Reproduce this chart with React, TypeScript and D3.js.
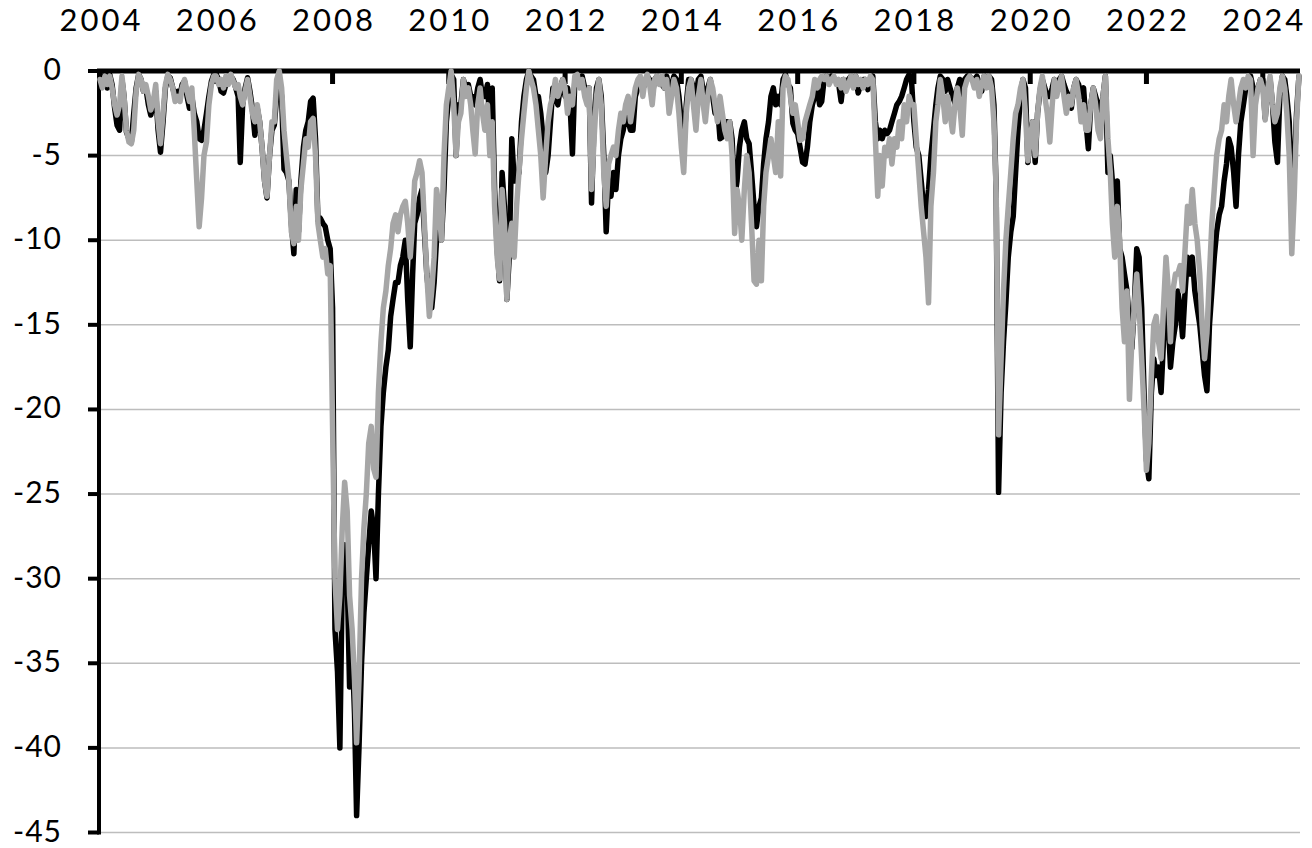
import React from "react";
import * as d3 from "d3";

// Series start: first observation (semi-monthly: 1st and 16th of each month)
const START_YEAR = 2004;
const START_MONTH = 9; // October (0-based)

// Drawdown (%) of the grey series, semi-monthly, one row per year of data
const greySeries: number[] = [
  -0.5,-1.0,-0.3,-0.8,-0.3,-1.0,-2.0,-2.6,-2.0,-0.3,-1.5,-3.5,-4.2,-4.3,-3.5,-1.2,-0.2,-0.5,-1.2,-0.8,-1.5,-2.3,-1.8,-0.8,
  -3.0,-4.3,-2.5,-0.8,-0.2,-0.5,-1.0,-1.8,-1.5,-1.8,-1.0,-0.5,-1.2,-1.8,-1.0,-3.5,-6.5,-9.2,-7.5,-5.0,-4.2,-2.0,-0.8,-0.3,
  -0.3,-0.8,-0.5,-1.0,-0.3,-0.8,-0.2,-0.6,-1.0,-0.8,-1.5,-2.0,-1.2,-0.5,-1.5,-2.5,-3.0,-2.0,-3.0,-4.5,-6.5,-7.4,-5.0,-3.0,
  -3.0,-0.5,0,-1.0,-3.5,-5.0,-6.5,-9.5,-10.2,-8.0,-10.0,-7.0,-5.5,-4.0,-4.5,-3.0,-2.8,-5.0,-9.0,-10.0,-11.0,-10.5,-12.0,-11.5,
  -21,-30,-33,-31,-27,-24.3,-26,-31,-33,-36,-39.7,-36,-30,-27,-25,-22,-21,-23.5,-24,-19,-16,-14,-13,-11.5,
  -10.5,-9,-8.5,-9.5,-8.5,-8,-7.7,-9,-11,-9,-6.5,-6,-5.3,-6,-9,-12,-14.5,-13,-11,-7,-8,-10,-5,-2,
  -1,0,-2,-5,-3,-2.5,-0.5,-1.5,-1,-2,-3.5,-4.9,-2,-1,-2.5,-3.5,-2,-5,-3,-8,-11,-12.3,-7,-9,
  -13.5,-10,-9,-11,-8,-6,-4,-2.5,-1,0,-0.5,-1,-2,-3.5,-5,-7.5,-5,-3,-2,-1.5,-0.5,-1.5,-1,-0.5,
  -1,-2.5,-1.5,-2,-0.3,-0.2,-1,-0.5,-1.5,-2,-1,-7,-4,-1.5,-0.5,-2,-6,-8,-5.5,-5,-4.5,-5,-3.5,-2.5,
  -3,-2,-1.5,-3,-2,-1,-0.5,-0.3,-1.5,-0.5,-0.2,-0.8,-2,-0.5,-0.3,-0.8,-0.3,-1,-0.5,-2.5,-1.5,-0.5,-1,-2.5,
  -4.5,-6,-2.5,-1,-0.5,-2,-3.5,-1.5,-0.5,-2,-3,-1.5,-0.5,-1,-2,-3,-1.5,-2.5,-3.5,-4,-3,-5,-9.6,-7,
  -8,-10,-7,-5,-6,-9,-12.4,-12.6,-10,-12.4,-8,-6,-5,-4,-5,-6,-3,-6.2,-1,-0.3,-0.5,-1.5,-2.5,-2,
  -3,-4.1,-4,-3,-2.5,-2,-1.5,-0.5,-1,-0.5,-0.3,-0.5,-0.3,-0.8,-0.5,-0.3,-0.8,-0.5,-1,-0.5,-1.2,-0.8,-0.3,-1,
  -0.3,-0.8,-0.5,-1,-0.5,-0.8,-0.3,-0.5,-4,-7.4,-5,-6.8,-4.5,-5,-4,-5.5,-4,-4.5,-3,-4,-2,-3,-1.5,-2,
  -2,-4,-6,-8,-9.5,-11,-13.7,-8,-6,-3,-2,-0.5,-1.5,-3,-1.5,-2.5,-3.6,-2,-1,-2,-3.8,-1,-0.5,-0.3,
  -0.5,-1,-0.5,-1.5,-0.8,-0.3,-1,-0.3,-1,-3,-7.2,-21.5,-17,-13,-10,-8,-6,-4,-2.5,-2,-1,-0.5,-2.5,-5.3,
  -4,-3,-5,-2.5,-1,-0.3,-1.5,-2.5,-4.2,-2,-0.5,-1.5,-0.8,-0.3,-1.5,-2.5,-1.5,-2,-1,-0.5,-1.5,-3,-2,-3.5,
  -3.5,-2,-1,-2,-3.5,-4,-1.5,-0.3,-4,-6,-9,-11,-8,-10,-14,-16,-13,-19.4,-16,-14,-12,-14,-17,-20,
  -23.6,-22,-18,-15,-14.5,-16,-17,-14,-11,-13,-16,-13,-12,-12,-11.5,-13,-10.5,-8,-9,-7,-9,-10,-12,-15,
  -17,-15.5,-12,-9,-7,-5,-4,-3.5,-2,-3,-1.5,-0.5,-2,-3,-2,-1,-0.5,-1,-0.3,-0.5,-5,-2,-1,-0.5,
  -1,-2.9,-1,-0.3,-2,-3,-2.5,-1,-0.3,-1,-2.5,-5,-10.8,-7.5,-3,-0.3,
];

// Drawdown (%) of the black series, same dates
const blackSeries: number[] = [
  -0.3,-0.5,-0.2,-1.0,-0.2,-0.8,-2.2,-3.2,-3.5,-0.5,-1.5,-3.6,-4.0,-4.2,-2.5,-1.0,-0.2,-0.5,-1.2,-1.0,-2.0,-2.6,-2.0,-1.2,
  -3.5,-4.8,-3.0,-1.0,-0.3,-0.4,-1.0,-1.5,-1.2,-1.4,-0.8,-0.6,-1.5,-2.2,-1.5,-2.5,-3.0,-4.0,-4.1,-3.5,-2.5,-1.5,-0.6,-0.2,
  -0.2,-0.5,-1.2,-1.3,-0.8,-0.6,-0.3,-0.5,-1.0,-1.5,-5.4,-2.0,-1.0,-0.4,-1.2,-2.2,-3.8,-2.2,-3.0,-4.5,-6.5,-7.5,-5.0,-3.5,
  -3.2,-1.5,-0.5,-1.5,-5.8,-6.0,-6.5,-9.0,-10.8,-7.0,-9.5,-6.5,-4.5,-3.5,-3.0,-1.8,-1.6,-4.0,-8.8,-8.7,-9.0,-9.2,-10.0,-10.5,
  -14,-33,-35.5,-40,-30,-28,-30,-36.4,-34,-38,-44,-40,-35,-32,-30,-28,-26,-27,-30,-25,-21,-19,-17.5,-16.5,
  -14.5,-13.5,-12.5,-12.5,-11.5,-11,-10,-13.5,-16.3,-12,-9,-8.5,-7.5,-7,-9.5,-12,-13.5,-14,-12.5,-10,-9.5,-10,-7,-3,
  -1.5,-0.2,-0.5,-5,-2,-2,-0.5,-1,-0.8,-1.5,-1.5,-2,-1,-0.5,-1.5,-1.5,-0.8,-3,-1,-7,-10.5,-12.4,-6,-8,
  -13.5,-11,-4,-6.5,-6.5,-6,-3,-1.5,-0.5,0,-0.3,-0.5,-1.5,-1.5,-2.5,-4,-6,-5,-3,-1,-1.5,-2,-1,-0.5,
  -1.5,-1,-2,-4.9,-0.5,-0.3,-0.5,-0.3,-1,-1.5,-1,-7.8,-3,-1,-0.5,-1.5,-5,-9.5,-6.5,-7.4,-6,-7,-5,-4,
  -3.5,-2.5,-3,-3.5,-3.5,-1.5,-1,-0.5,-1,-0.8,-0.3,-0.5,-1.5,-0.5,-0.3,-0.5,-0.8,-1,-0.3,-1,-0.8,-0.3,-0.5,-1.5,
  -3,-4.7,-2,-0.5,-0.5,-1,-1.5,-0.5,-0.3,-1.2,-2,-1,-0.5,-1.5,-2.5,-2,-4,-3.9,-3,-3,-3,-4,-7.5,-6.5,
  -4.5,-3.5,-3,-4,-4.3,-6,-8,-9.2,-8,-7.5,-5.5,-4,-3,-1.5,-1,-2,-1.5,-2,-0.5,-0.2,-0.8,-1,-3.1,-3.5,
  -3.7,-4.5,-5.4,-5.5,-4.5,-3,-2,-1.5,-1,-2,-1.8,-0.5,-0.3,-0.5,-0.3,-0.5,-0.5,-0.8,-1.8,-0.5,-0.8,-0.5,-0.3,-0.8,
  -0.3,-1.3,-0.8,-0.5,-0.5,-1.1,-0.5,-0.3,-3,-4,-3.5,-4,-3.5,-3.7,-3.5,-3,-2.5,-2,-1.8,-1.5,-1,-0.5,-0.2,-0.5,
  -3,-4.5,-5,-6.5,-8,-8.6,-7,-5,-3.5,-2,-1,-0.3,-0.5,-1.2,-0.5,-1,-1.5,-1.9,-1,-0.5,-1.5,-0.5,-0.3,-0.3,
  -0.5,-0.5,-0.3,-0.8,-1.2,-0.3,-0.5,-0.3,-0.5,-2,-7.2,-24.9,-19,-16,-13.7,-11,-9.5,-8.6,-6,-3.5,-1.5,-0.5,-1,-5.4,
  -4,-3,-5.4,-2.5,-1.2,-0.5,-1,-1.5,-1.5,-1,-0.5,-1,-0.5,-0.3,-0.8,-1.2,-1.5,-2.2,-1,-0.5,-0.8,-1.5,-1,-3,
  -4.6,-2,-1,-1.5,-2,-2.5,-1.5,-0.3,-6,-5,-6.5,-8,-6.5,-10.5,-11,-12,-13,-15,-16.4,-14,-10.5,-11,-14,-19,
  -23,-24.1,-19,-17,-18,-17.5,-19,-16,-13.5,-15,-17.5,-16,-15,-13,-14,-15.7,-13,-11,-12,-11,-13,-14,-15,-16.5,
  -18,-18.9,-15,-13,-11,-9.5,-8.5,-8,-6.5,-5.5,-4,-4.5,-6,-8,-5,-3,-2,-1,-0.5,-0.3,-1,-1.5,-1,-0.5,
  -0.5,-2.8,-1,-0.5,-2,-4.2,-5.4,-1.5,-0.3,-0.5,-1.5,-3,-7.5,-6,-2.5,-0.3,
];

// Axis ticks
const xTickYears: number[] = [2004, 2006, 2008, 2010, 2012, 2014, 2016, 2018, 2020, 2022, 2024];
const yTicks: number[] = [0, -5, -10, -15, -20, -25, -30, -35, -40, -45];

const W = 1312;
const H = 848;
const FONT = "Lato, 'DejaVu Sans', sans-serif";

const dateOf = (i: number) =>
  new Date(START_YEAR, START_MONTH + Math.floor(i / 2), i % 2 === 0 ? 1 : 16);

export default function App() {
  const x = d3
    .scaleTime()
    .domain([new Date(START_YEAR, START_MONTH, 1), new Date(START_YEAR + 20, START_MONTH, 1)])
    .range([100, 1262.8]);
  const y = d3.scaleLinear().domain([0, -45]).range([71, 832.5]);

  const plotLeft = 99;
  const plotRight = 1300;

  const line = d3
    .line<number>()
    .x((_, i) => x(dateOf(i)))
    .y((d) => y(d))
    .curve(d3.curveLinear);

  return (
    <svg
      width={W}
      height={H}
      style={{ position: "absolute", left: 0, top: 0, background: "#fff" }}
      fontFamily={FONT}
    >
      <rect x={0} y={0} width={W} height={H} fill="#fff" />
      {/* gridlines */}
      {yTicks
        .filter((t) => t !== 0)
        .map((t) => (
          <line
            key={"g" + t}
            x1={plotLeft}
            x2={plotRight}
            y1={y(t)}
            y2={y(t)}
            stroke="#bdbdbd"
            strokeWidth={1.5}
          />
        ))}
      {/* x axis (at zero) with ticks */}
      <line x1={97} x2={plotRight} y1={y(0)} y2={y(0)} stroke="#000" strokeWidth={5} />
      {xTickYears.map((yr) => {
        const px = x(new Date(yr, START_MONTH, 1));
        return (
          <g key={"x" + yr}>
            <line x1={px} x2={px} y1={y(0)} y2={y(0) + 13} stroke="#000" strokeWidth={5} />
            <text
              x={px + 1.5}
              y={31}
              textAnchor="middle"
              fontSize={31}
              letterSpacing={3}
              fill="#000"
            >
              {yr}
            </text>
          </g>
        );
      })}
      {/* y axis with ticks */}
      <line x1={plotLeft} x2={plotLeft} y1={y(0) - 2} y2={y(-45) + 2} stroke="#000" strokeWidth={4} />
      {yTicks.map((t) => (
        <g key={"y" + t}>
          <line x1={88} x2={plotLeft} y1={y(t)} y2={y(t)} stroke="#000" strokeWidth={4} />
          <text
            x={62}
            y={y(t) + 9}
            textAnchor="end"
            fontSize={30}
            letterSpacing={1}
            fill="#000"
          >
            {t}
          </text>
        </g>
      ))}
      {/* series */}
      <path
        d={line(blackSeries) || ""}
        fill="none"
        stroke="#000"
        strokeWidth={5.5}
        strokeLinejoin="round"
        strokeLinecap="round"
      />
      <path
        d={line(greySeries) || ""}
        fill="none"
        stroke="#a6a6a6"
        strokeWidth={5.5}
        strokeLinejoin="round"
        strokeLinecap="round"
      />
    </svg>
  );
}
